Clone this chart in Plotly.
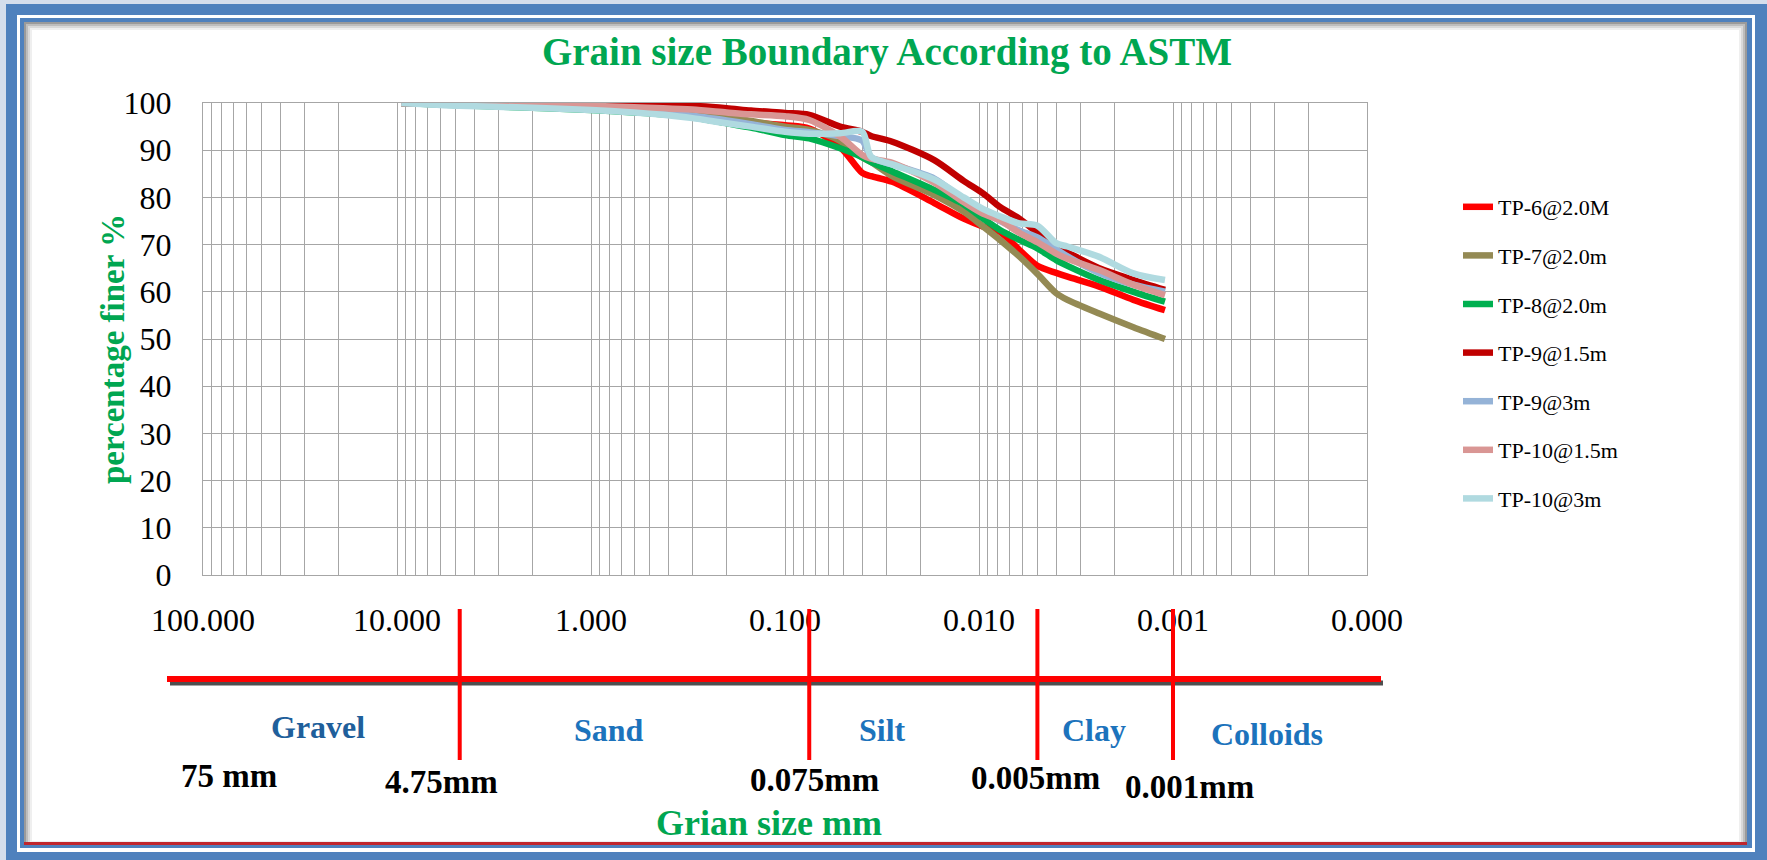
import plotly.graph_objects as go

# ---------------- data ----------------
grain_size_mm = [9.5, 4.75, 2.0, 1.0, 0.6, 0.425, 0.3, 0.2, 0.15, 0.1, 0.075, 0.052, 0.04,
                 0.036, 0.028, 0.017, 0.012, 0.0095, 0.0078, 0.0062, 0.005, 0.004, 0.0035,
                 0.0024, 0.0016, 0.0011]

tp6_20 = [100, 99.8, 99.5, 99.2, 98.9, 98.6, 98.2, 97.5, 96.0, 95.3, 94.6, 90.7, 85.2,
          84.5, 83.3, 78.8, 75.5, 73.8, 72.7, 68.9, 65.5, 64.0, 63.2, 61.1, 58.3, 56.1]
tp7_20 = [100, 99.7, 99.3, 99.0, 98.5, 98.2, 97.8, 97.0, 96.2, 95.0, 94.3, 92.0, 88.5,
          87.5, 84.5, 80.5, 77.0, 73.8, 71.0, 67.5, 63.8, 59.7, 58.3, 55.4, 52.5, 50.0]
tp8_20 = [100, 99.5, 99.0, 98.5, 98.0, 97.6, 97.0, 95.7, 94.8, 93.2, 92.5, 90.4, 88.5,
          87.5, 85.5, 81.6, 78.5, 75.5, 73.1, 71.0, 69.2, 66.7, 65.5, 62.5, 60.0, 57.9]
tp9_15 = [100, 99.9, 99.8, 99.7, 99.6, 99.5, 99.4, 98.9, 98.4, 97.9, 97.5, 95.0, 93.9,
          93.0, 91.8, 87.9, 83.5, 80.8, 78.0, 75.5, 72.5, 69.5, 68.3, 65.0, 62.5, 60.4]
tp9_30 = [100, 99.6, 99.2, 98.8, 98.3, 97.9, 97.3, 96.3, 95.5, 94.3, 93.8, 93.0, 92.0,
          88.5, 87.0, 84.0, 79.5, 77.0, 75.0, 73.0, 71.5, 69.0, 67.5, 64.0, 61.5, 60.0]
tp10_15 = [100, 99.8, 99.6, 99.4, 99.1, 98.9, 98.6, 98.0, 97.6, 97.2, 96.4, 92.9, 89.0,
           88.2, 87.3, 83.1, 79.0, 76.5, 75.2, 72.5, 70.5, 68.1, 67.0, 64.6, 61.5, 59.3]
tp10_30 = [100, 99.4, 99.0, 98.5, 98.0, 97.5, 96.8, 95.7, 95.0, 93.9, 93.5, 93.6, 93.9,
           88.6, 87.0, 83.8, 80.0, 77.5, 76.0, 74.5, 74.0, 70.3, 69.6, 67.4, 63.9, 62.5]

series_names = ["TP-6@2.0M", "TP-7@2.0m", "TP-8@2.0m", "TP-9@1.5m", "TP-9@3m", "TP-10@1.5m", "TP-10@3m"]
series_values = [tp6_20, tp7_20, tp8_20, tp9_15, tp9_30, tp10_15, tp10_30]
series_colors = ["#FF0000", "#948A54", "#00B050", "#C00000", "#95B3D7", "#D99694", "#B0DAE0"]

x_tick_values = [100, 10, 1, 0.1, 0.01, 0.001, 0.0001]
x_tick_labels = ["100.000", "10.000", "1.000", "0.100", "0.010", "0.001", "0.000"]
y_tick_values = [0, 10, 20, 30, 40, 50, 60, 70, 80, 90, 100]

boundary_sizes_mm = [4.75, 0.075, 0.005, 0.001]
soil_classes = ["Gravel", "Sand", "Silt", "Clay", "Colloids"]
size_labels = ["75 mm", "4.75mm", "0.075mm", "0.005mm", "0.001mm"]

# ---------------- geometry helpers (pixels -> paper) ----------------
W, H = 1767, 860
L, R, T, B = 203, 1367, 103, 575
PW, PH = R - L, B - T


def px(x):
    return (x - L) / PW


def py(y):
    return (B - y) / PH


# gridlines at 1..9 x each decade; labels only on decades
grid_vals, grid_text = [], []
for dec in [0.0001, 0.001, 0.01, 0.1, 1, 10]:
    for m in range(1, 10):
        grid_vals.append(m * dec)
        grid_text.append("")
grid_vals.append(100)
grid_text.append("")
for v, lab in zip(x_tick_values, x_tick_labels):
    for i, g in enumerate(grid_vals):
        if abs(g - v) / v < 1e-9:
            grid_text[i] = lab

fig = go.Figure()
for name, vals, col in zip(series_names, series_values, series_colors):
    fig.add_trace(go.Scatter(
        x=grain_size_mm, y=vals, name=name, mode="lines", legendgroup=name,
        line=dict(color=col, width=6.5, shape="spline", smoothing=0.8),
    ))

SERIF = "Liberation Serif, Times New Roman, serif"
GRID = "#A6A6A6"

fig.update_xaxes(
    type="log", range=[2, -4], tickvals=grid_vals, ticktext=grid_text,
    showgrid=True, gridcolor=GRID, gridwidth=1.2,
    showline=True, linecolor=GRID, linewidth=1.2, mirror=True,
    ticks="outside", ticklen=16, tickcolor="rgba(0,0,0,0)",
    tickfont=dict(family=SERIF, size=32, color="black"), zeroline=False,
)
fig.update_yaxes(
    range=[0, 100], tickvals=y_tick_values,
    showgrid=True, gridcolor=GRID, gridwidth=1.2,
    showline=True, linecolor=GRID, linewidth=1.2, mirror=True,
    ticks="outside", ticklen=24, tickcolor="rgba(0,0,0,0)",
    tickfont=dict(family=SERIF, size=32, color="black"), zeroline=False,
)

BLUE = "#4F81BD"
shapes = []
# frame
shapes.append(dict(type="rect", xref="paper", yref="paper", x0=px(0), x1=px(6), y0=py(0), y1=py(H),
                   fillcolor="#D5DEEC", line_width=0, layer="below"))
shapes.append(dict(type="rect", xref="paper", yref="paper", x0=px(0), x1=px(W), y0=py(0), y1=py(4),
                   fillcolor="#D5DEEC", line_width=0, layer="below"))
shapes.append(dict(type="rect", xref="paper", yref="paper", x0=px(17), x1=px(1755), y0=py(15), y1=py(852),
                   fillcolor="white", line_width=0, layer="below"))
shapes.append(dict(type="rect", xref="paper", yref="paper", x0=px(20), x1=px(1752), y0=py(18), y1=py(848),
                   fillcolor=BLUE, line_width=0, layer="below"))
shapes.append(dict(type="rect", xref="paper", yref="paper", x0=px(24), x1=px(1747), y0=py(22), y1=py(845),
                   fillcolor="white", line_width=0, layer="below"))
for off, col in [(1, "#9A9A9A"), (3, "#BDBDBD"), (5, "#D9D9D9"), (7, "#EFEFEF")]:
    shapes.append(dict(type="rect", xref="paper", yref="paper", x0=px(24 + off), x1=px(1747 - off),
                       y0=py(22 + off), y1=py(842), fillcolor="rgba(0,0,0,0)",
                       line=dict(color=col, width=2), layer="below"))
shapes.append(dict(type="line", xref="paper", yref="paper", x0=px(24), x1=px(1747), y0=py(843.5), y1=py(843.5),
                   line=dict(color="#C0262D", width=3), layer="above"))
# classification scale bar
shapes.append(dict(type="line", xref="paper", yref="paper", x0=px(170), x1=px(1383), y0=py(683), y1=py(683),
                   line=dict(color="rgba(20,20,20,0.75)", width=5), layer="above"))
shapes.append(dict(type="line", xref="paper", yref="paper", x0=px(167), x1=px(1381), y0=py(679), y1=py(679),
                   line=dict(color="#FF0000", width=6), layer="above"))
for b in boundary_sizes_mm:
    shapes.append(dict(type="line", xref="x", yref="paper", x0=b, x1=b, y0=py(609), y1=py(760),
                       line=dict(color="#FF0000", width=4), layer="above"))

annotations = []
annotations.append(dict(text="<b>percentage finer %</b>", x=px(113), y=py(349), xref="paper", yref="paper",
                        textangle=-90, showarrow=False, xanchor="center", yanchor="middle",
                        font=dict(family=SERIF, size=33, color="#00A651")))
class_pos = [(318, 727), (609, 730), (882, 730), (1094, 730), (1267, 734)]
class_cols = ["#1F5F9B", "#1C73BC", "#1C73BC", "#1C73BC", "#1C73BC"]
for txt, (cx, cy), col in zip(soil_classes, class_pos, class_cols):
    annotations.append(dict(text=f"<b>{txt}</b>", x=px(cx), y=py(cy), xref="paper", yref="paper",
                            showarrow=False, xanchor="center", yanchor="middle",
                            font=dict(family=SERIF, size=32, color=col)))
size_pos = [(229, 776), (441, 782), (814, 780), (1035, 778), (1189, 787)]
for txt, (cx, cy) in zip(size_labels, size_pos):
    annotations.append(dict(text=f"<b>{txt}</b>", x=px(cx), y=py(cy), xref="paper", yref="paper",
                            showarrow=False, xanchor="center", yanchor="middle",
                            font=dict(family=SERIF, size=33, color="black")))
annotations.append(dict(text="<b>Grian size mm</b>", x=px(769), y=py(823), xref="paper", yref="paper",
                        showarrow=False, xanchor="center", yanchor="middle",
                        font=dict(family=SERIF, size=36, color="#00A651")))

fig.update_layout(
    width=W, height=H,
    margin=dict(l=L, r=W - R, t=T, b=H - B, pad=0, autoexpand=False),
    paper_bgcolor=BLUE, plot_bgcolor="white",
    title=dict(text="<b>Grain size Boundary According to ASTM</b>", x=887 / W, y=1 - 51 / H,
               xanchor="center", yanchor="middle",
               font=dict(family=SERIF, size=39, color="#00A651")),
    legend=dict(x=px(1458), y=py(186), xanchor="left", yanchor="top",
                font=dict(family=SERIF, size=22, color="black"),
                bgcolor="rgba(0,0,0,0)", tracegroupgap=17, itemwidth=30),
    shapes=shapes, annotations=annotations, showlegend=True,
)

fig.write_html("out.html")
